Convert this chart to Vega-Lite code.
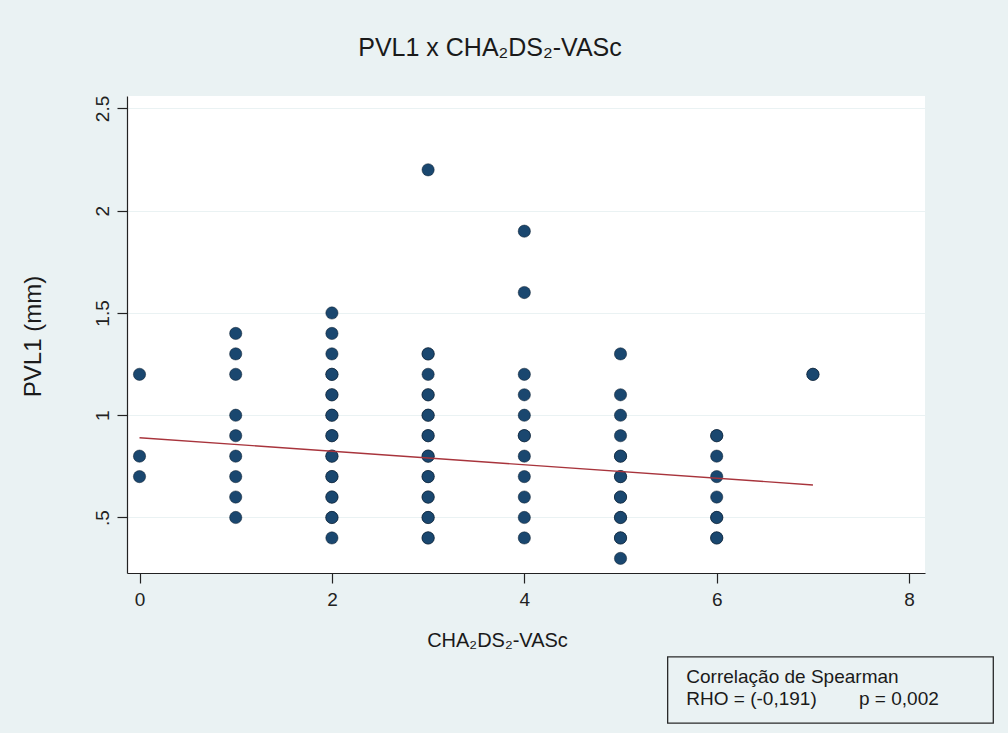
{
  "$schema": "https://vega.github.io/schema/vega-lite/v6.json",
  "autosize": {"type": "none"},
  "width": 798,
  "height": 477,
  "padding": {"left": 127, "top": 96, "right": 83, "bottom": 160},
  "background": "#eaf2f3",
  "config": {
    "font": "Liberation Sans",
    "view": {"fill": "#ffffff", "stroke": null}
  },
  "title": {
    "text": "PVL1 x CHA₂DS₂-VASc",
    "fontSize": 25,
    "fontWeight": "normal",
    "color": "#1a1a1a",
    "anchor": "middle",
    "frame": "group",
    "dx": -36,
    "baseline": "alphabetic",
    "offset": 14
  },
  "datasets": {
    "pts": [
      {"x": 0, "y": 1.2}, {"x": 0, "y": 0.8}, {"x": 0, "y": 0.7},
      {"x": 1, "y": 1.4}, {"x": 1, "y": 1.3}, {"x": 1, "y": 1.2}, {"x": 1, "y": 1.0}, {"x": 1, "y": 0.9}, {"x": 1, "y": 0.8}, {"x": 1, "y": 0.7}, {"x": 1, "y": 0.6}, {"x": 1, "y": 0.5},
      {"x": 2, "y": 1.5}, {"x": 2, "y": 1.4}, {"x": 2, "y": 1.3}, {"x": 2, "y": 1.2}, {"x": 2, "y": 1.2}, {"x": 2, "y": 1.1}, {"x": 2, "y": 1.1}, {"x": 2, "y": 1.0}, {"x": 2, "y": 1.0}, {"x": 2, "y": 0.9}, {"x": 2, "y": 0.9}, {"x": 2, "y": 0.8}, {"x": 2, "y": 0.8}, {"x": 2, "y": 0.7}, {"x": 2, "y": 0.7}, {"x": 2, "y": 0.6}, {"x": 2, "y": 0.6}, {"x": 2, "y": 0.5}, {"x": 2, "y": 0.5}, {"x": 2, "y": 0.4},
      {"x": 3, "y": 2.2}, {"x": 3, "y": 1.3}, {"x": 3, "y": 1.3}, {"x": 3, "y": 1.2}, {"x": 3, "y": 1.1}, {"x": 3, "y": 1.1}, {"x": 3, "y": 1.0}, {"x": 3, "y": 1.0}, {"x": 3, "y": 0.9}, {"x": 3, "y": 0.9}, {"x": 3, "y": 0.8}, {"x": 3, "y": 0.8}, {"x": 3, "y": 0.7}, {"x": 3, "y": 0.7}, {"x": 3, "y": 0.6}, {"x": 3, "y": 0.6}, {"x": 3, "y": 0.5}, {"x": 3, "y": 0.5}, {"x": 3, "y": 0.4}, {"x": 3, "y": 0.4},
      {"x": 4, "y": 1.9}, {"x": 4, "y": 1.6}, {"x": 4, "y": 1.2}, {"x": 4, "y": 1.1}, {"x": 4, "y": 1.0}, {"x": 4, "y": 0.9}, {"x": 4, "y": 0.9}, {"x": 4, "y": 0.8}, {"x": 4, "y": 0.7}, {"x": 4, "y": 0.6}, {"x": 4, "y": 0.5}, {"x": 4, "y": 0.4},
      {"x": 5, "y": 1.3}, {"x": 5, "y": 1.1}, {"x": 5, "y": 1.0}, {"x": 5, "y": 0.9}, {"x": 5, "y": 0.8}, {"x": 5, "y": 0.8}, {"x": 5, "y": 0.7}, {"x": 5, "y": 0.7}, {"x": 5, "y": 0.6}, {"x": 5, "y": 0.6}, {"x": 5, "y": 0.5}, {"x": 5, "y": 0.5}, {"x": 5, "y": 0.4}, {"x": 5, "y": 0.4}, {"x": 5, "y": 0.3},
      {"x": 6, "y": 0.9}, {"x": 6, "y": 0.9}, {"x": 6, "y": 0.8}, {"x": 6, "y": 0.7}, {"x": 6, "y": 0.6}, {"x": 6, "y": 0.5}, {"x": 6, "y": 0.5}, {"x": 6, "y": 0.4}, {"x": 6, "y": 0.4},
      {"x": 7, "y": 1.2}, {"x": 7, "y": 1.2}
    ],
    "fit": [
      {"x": 0, "y": 0.89},
      {"x": 7, "y": 0.659}
    ]
  },
  "layer": [
    {
      "data": {"name": "pts"},
      "mark": {"type": "circle", "size": 150, "fill": "#1a476f", "fillOpacity": 1, "stroke": "#0a1a2a", "strokeWidth": 0.9, "strokeOpacity": 0.55},
      "encoding": {
        "x": {
          "field": "x", "type": "quantitative",
          "scale": {"domain": [-0.13, 8.165], "nice": false, "zero": false},
          "axis": {
            "values": [0, 2, 4, 6, 8],
            "format": "d",
            "grid": false,
            "domainColor": "#222222", "domainWidth": 1.2,
            "tickColor": "#222222", "tickSize": 10, "tickWidth": 1.2,
            "labelFontSize": 19, "labelColor": "#222222", "labelPadding": 7,
            "title": "CHA₂DS₂-VASc",
            "titleFontSize": 20, "titleFontWeight": "normal", "titleColor": "#1a1a1a",
            "titleBaseline": "alphabetic", "titleAlign": "center",
            "titleX": 370, "titleY": 73
          }
        },
        "y": {
          "field": "y", "type": "quantitative",
          "scale": {"domain": [0.2286, 2.561], "nice": false, "zero": false},
          "axis": {
            "values": [0.5, 1, 1.5, 2, 2.5],
            "labelExpr": "datum.value == 0.5 ? '.5' : (datum.value == 1 ? '1' : (datum.value == 2 ? '2' : format(datum.value, '.1f')))",
            "grid": true, "gridColor": "#eaf2f3", "gridWidth": 1.2,
            "domainColor": "#222222", "domainWidth": 1.2,
            "tickColor": "#222222", "tickSize": 10, "tickWidth": 1.2,
            "labelAngle": -90, "labelAlign": "center", "labelBaseline": "bottom",
            "labelFontSize": 19, "labelColor": "#222222", "labelPadding": 5,
            "title": "PVL1 (mm)",
            "titleFontSize": 24, "titleFontWeight": "normal", "titleColor": "#1a1a1a",
            "titleAngle": -90, "titleBaseline": "alphabetic", "titleAlign": "center",
            "titleX": -87, "titleY": 240
          }
        }
      }
    },
    {
      "data": {"name": "fit"},
      "mark": {"type": "line", "color": "#a8343c", "strokeWidth": 1.4},
      "encoding": {
        "x": {"field": "x", "type": "quantitative"},
        "y": {"field": "y", "type": "quantitative"}
      }
    },
    {
      "data": {"values": [{}]},
      "mark": {"type": "rect", "fill": "#eaf2f3", "stroke": "#2a2a2a", "strokeWidth": 1.3, "clip": false},
      "encoding": {
        "x": {"datum": 5.49, "type": "quantitative"},
        "x2": {"datum": 8.875},
        "y": {"datum": -0.182, "type": "quantitative"},
        "y2": {"datum": -0.505}
      }
    },
    {
      "data": {"values": [{}]},
      "mark": {"type": "text", "text": "Correlação de Spearman", "align": "left", "baseline": "alphabetic", "fontSize": 19, "color": "#1a1a1a"},
      "encoding": {
        "x": {"datum": 5.684, "type": "quantitative"},
        "y": {"datum": -0.309, "type": "quantitative"}
      }
    },
    {
      "data": {"values": [{}]},
      "mark": {"type": "text", "text": "RHO = (-0,191)", "align": "left", "baseline": "alphabetic", "fontSize": 19, "color": "#1a1a1a"},
      "encoding": {
        "x": {"datum": 5.684, "type": "quantitative"},
        "y": {"datum": -0.417, "type": "quantitative"}
      }
    },
    {
      "data": {"values": [{}]},
      "mark": {"type": "text", "text": "p = 0,002", "align": "left", "baseline": "alphabetic", "fontSize": 19, "color": "#1a1a1a"},
      "encoding": {
        "x": {"datum": 7.479, "type": "quantitative"},
        "y": {"datum": -0.417, "type": "quantitative"}
      }
    }
  ]
}
